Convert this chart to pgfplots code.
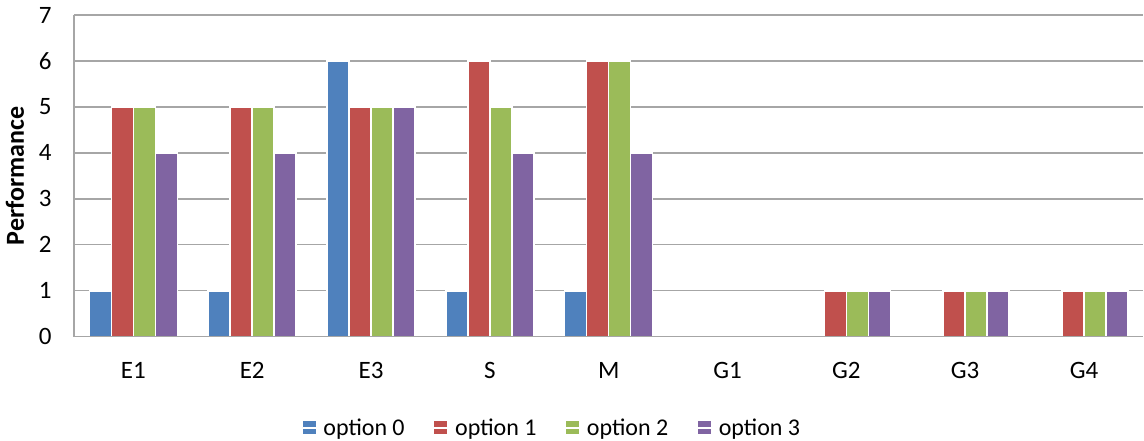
\documentclass[border=0pt]{standalone}
\usepackage{fontspec}
\setmainfont{Carlito}
\usepackage{pgfplots}
\pgfplotsset{compat=1.18}
\definecolor{c0}{HTML}{4F81BD}
\definecolor{c1}{HTML}{C0504D}
\definecolor{c2}{HTML}{9BBB59}
\definecolor{c3}{HTML}{8064A2}
\definecolor{gridc}{HTML}{A6A6A6}
\begin{document}
\begin{tikzpicture}
\begin{axis}[
  scale only axis,
  width=1070bp, height=322bp,
  ybar=0pt, bar width=22bp,
  xmin=-0.5, xmax=8.5,
  ymin=0, ymax=7,
  ytick={0,1,...,7},
  xtick={0,...,8},
  xticklabels={E1,E2,E3,S,M,G1,G2,G3,G4},
  axis lines*=left,
  axis line style={gridc, line width=1.2bp, -},
  ymajorgrids, major grid style={gridc, line width=1.2bp},
  major tick length=0pt,
  tick label style={font=\fontsize{25bp}{30bp}\selectfont, black},
  /pgf/number format/assume math mode=true,
  yticklabel style={anchor=east, xshift=-19bp},
  xticklabel style={anchor=center, yshift=-34bp},
  ylabel={\bfseries Performance},
  ylabel style={font=\fontsize{26bp}{30bp}\selectfont, at={(axis description cs:0,0.5)}, anchor=center, yshift=59bp},
  every axis plot/.append style={draw=white, line width=1.5bp},
  legend style={at={(axis description cs:0.447,-0.283)}, anchor=center, draw=none, legend columns=4,
    font=\fontsize{24bp}{28bp}\selectfont,
    /tikz/every even column/.append style={column sep=27bp}},
  legend image code/.code={\fill[#1, draw=none] (0bp,-6.5bp) rectangle (13bp,6.5bp); \path (0bp,0bp) -- (18bp,0bp);},
]
\addplot[fill=c0] coordinates {(0,1) (1,1) (2,6) (3,1) (4,1)};
\addplot[fill=c1] coordinates {(0,5) (1,5) (2,5) (3,6) (4,6) (6,1) (7,1) (8,1)};
\addplot[fill=c2] coordinates {(0,5) (1,5) (2,5) (3,5) (4,6) (6,1) (7,1) (8,1)};
\addplot[fill=c3] coordinates {(0,4) (1,4) (2,5) (3,4) (4,4) (6,1) (7,1) (8,1)};
\legend{option 0, option 1, option 2, option 3}
\draw[gridc, line width=1.2bp] (axis cs:-0.5,0) -- (axis cs:8.5,0);
\end{axis}
\useasboundingbox (-74bp,-104bp) rectangle (1070bp,337bp);
\end{tikzpicture}
\end{document}
